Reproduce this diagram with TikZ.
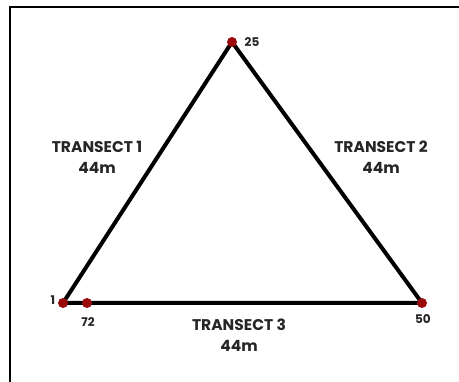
\documentclass[tikz,border=0pt]{standalone}
\usepackage{fontspec}
\setmainfont{Poppins}
\definecolor{dotred}{HTML}{9A0A0A}
\begin{document}
\begin{tikzpicture}[x=1pt,y=-1pt,
  side/.style={line width=4pt,line join=round},
  dot/.style={circle,fill=dotred,inner sep=0pt,minimum size=10pt},
  lbl/.style={font=\bfseries\fontsize{15.5}{21}\selectfont,text=black!85,align=center,inner sep=0pt},
  num/.style={font=\bfseries\fontsize{12}{12}\selectfont,text=black!85,inner sep=0pt}]
\useasboundingbox (0,0) rectangle (459,382);
\fill[white] (0,0) rectangle (459,382);
\draw[line width=2pt] (10,382) -- (10,7) -- (459,7);
\coordinate (A) at (63,303);
\coordinate (B) at (232,42);
\coordinate (C) at (422,303);
\draw[side] (A) -- (B) -- (C) -- cycle;
\node[dot] (d1) at (A) {};
\node[dot] (d25) at (B) {};
\node[dot] (d50) at (C) {};
\node[dot] (d72) at (87,303) {};
\node[num] (n25) at (252,42) {25};
\node[num] (n1) at (53,300) {1};
\node[num] (n72) at (88,322) {72};
\node[num] (n50) at (423,319) {50};
\node[lbl] (t1) at (97,157) {TRANSECT 1\\44m};
\node[lbl] (t2) at (381,157) {TRANSECT 2\\44m};
\node[lbl] (t3) at (239,335) {TRANSECT 3\\44m};
\end{tikzpicture}
\end{document}
